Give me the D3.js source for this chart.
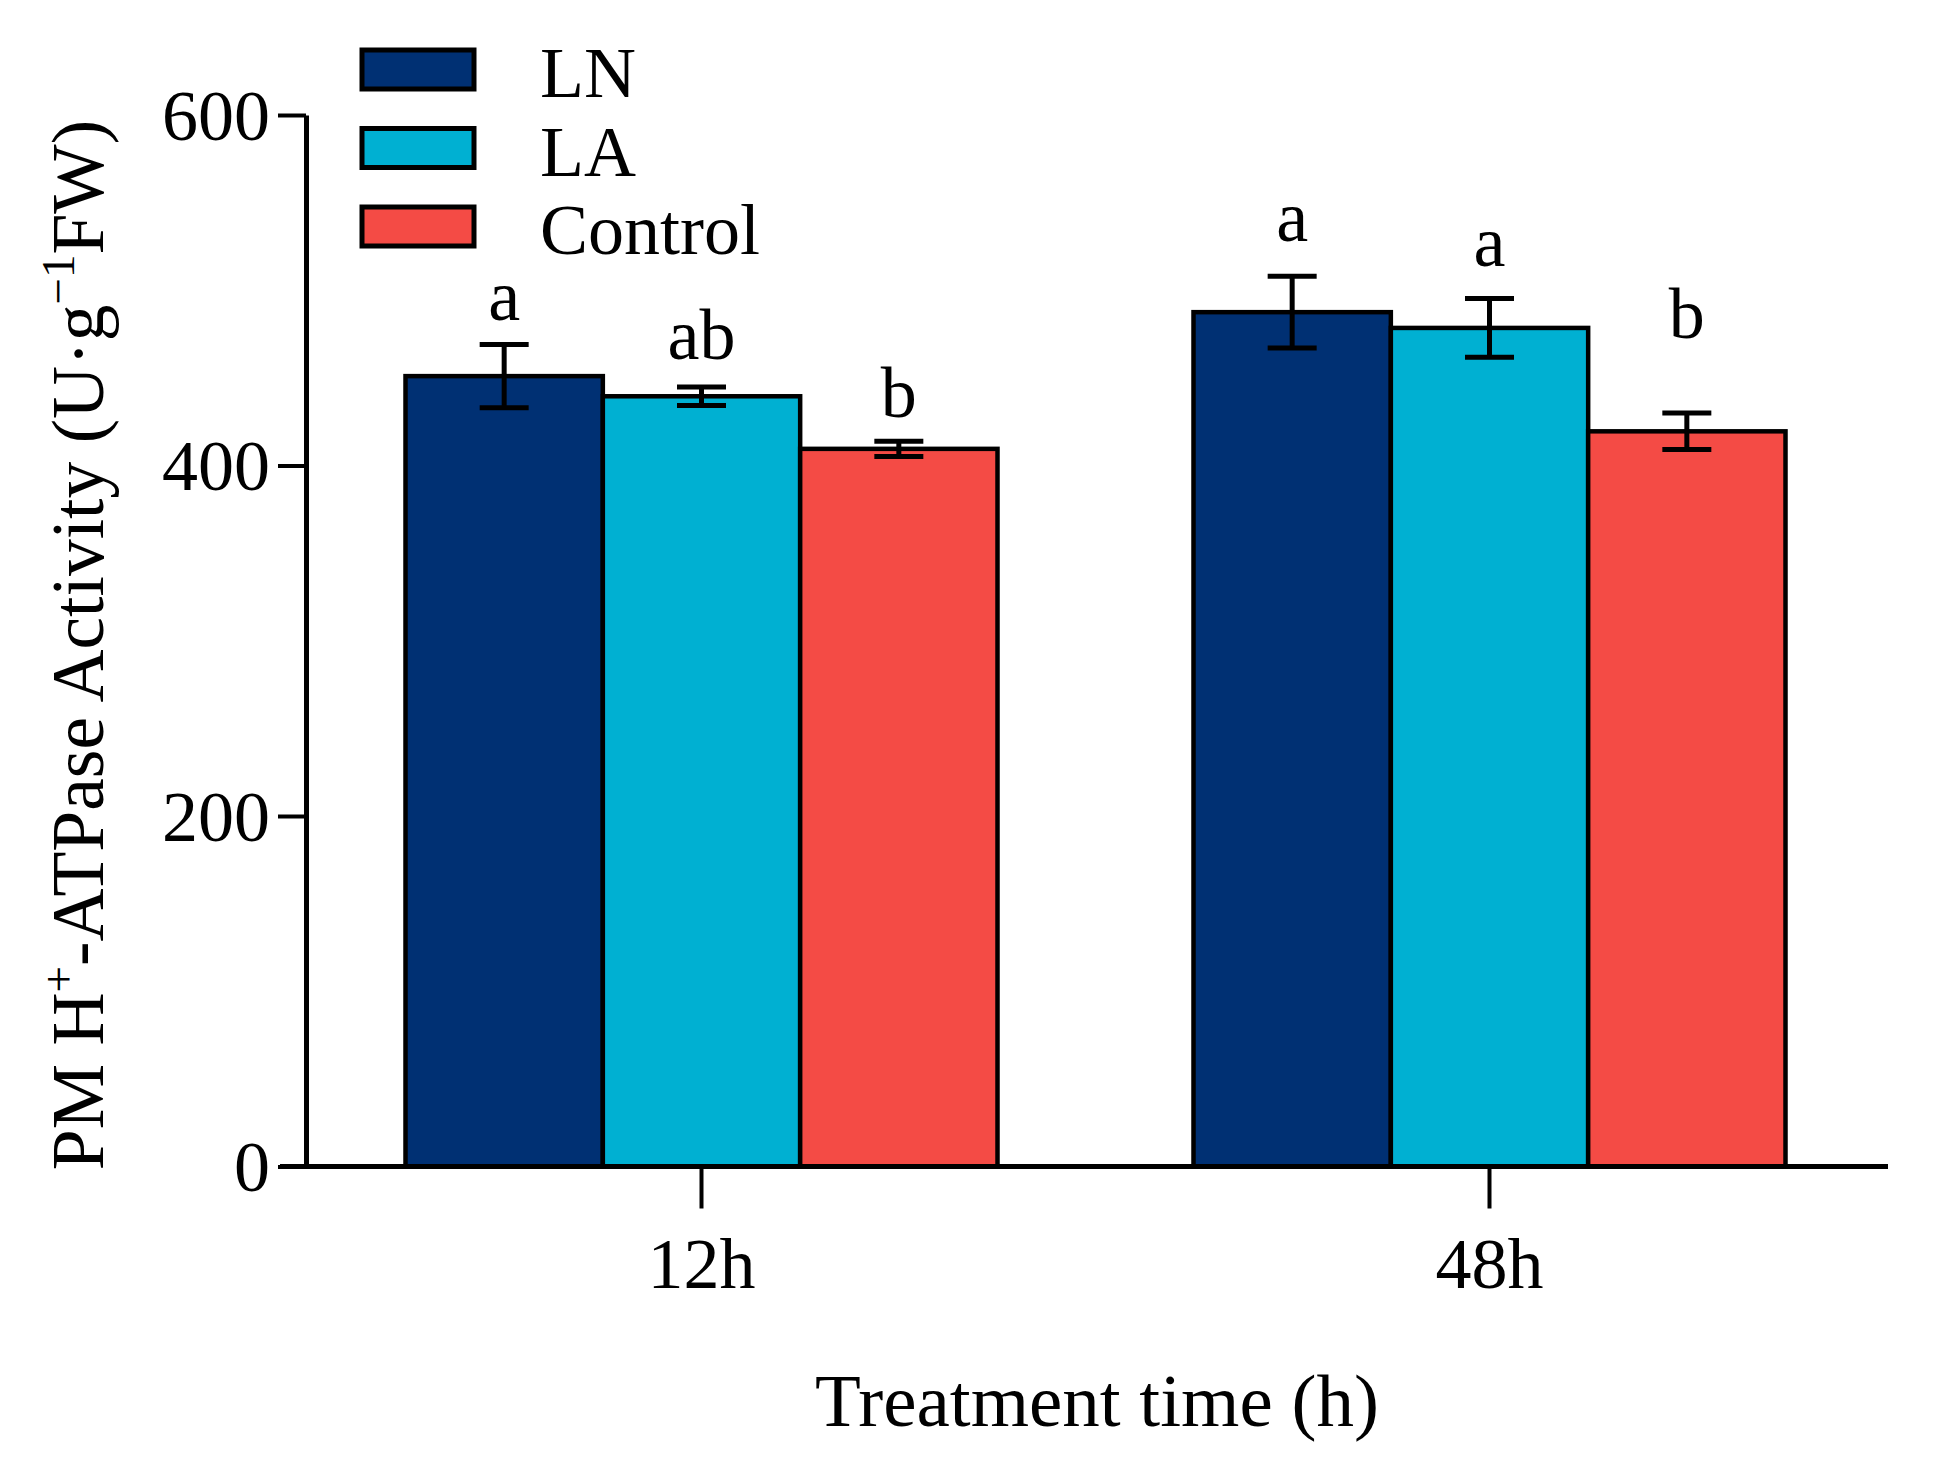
<!DOCTYPE html>
<html>
<head>
<meta charset="utf-8">
<script src="https://cdn.jsdelivr.net/npm/d3@7"></script>
<style>
  html, body { margin: 0; padding: 0; background: #fff; }
  svg { display: block; }
  text { font-family: "Liberation Serif", "Times New Roman", serif; fill: #000; }
</style>
</head>
<body>
<script>
// ---- data ----
const groups = ["12h", "48h"];
const series = ["LN", "LA", "Control"];
const lnValues = [451, 487.5];
const laValues = [439.5, 478.5];
const controlValues = [409.5, 419.5];
const lnErrors = [18, 20.5];
const laErrors = [5.3, 16.8];
const controlErrors = [4.3, 10.4];
const lnLetters = ["a", "a"];
const laLetters = ["ab", "a"];
const controlLetters = ["b", "b"];
const lnLetterAt = [483, 528];
const laLetterAt = [460.5, 514];
const controlLetterAt = [427.5, 472.5];
const yTicks = [0, 200, 400, 600];
const colors = ["#003073", "#00B0D2", "#F44B45"];

const W = 1938, H = 1462;
const svg = d3.select("body").append("svg").attr("width", W).attr("height", H);

const y = d3.scaleLinear().domain([0, 600]).range([1166.5, 115]);
const x0 = d3.scaleBand().domain(groups).range([307.5, 1883.5]).padding(0);
const x1 = d3.scaleBand().domain(series).range([98, 690]).padding(0);
const color = d3.scaleOrdinal().domain(series).range(colors);

const vals = { LN: lnValues, LA: laValues, Control: controlValues };
const errs = { LN: lnErrors, LA: laErrors, Control: controlErrors };
const letters = { LN: lnLetters, LA: laLetters, Control: controlLetters };
const letterAt = { LN: lnLetterAt, LA: laLetterAt, Control: controlLetterAt };

const rows = [];
groups.forEach((g, gi) => series.forEach(s => rows.push({
  g, s, v: vals[s][gi], e: errs[s][gi], l: letters[s][gi], la: letterAt[s][gi]
})));

// bars
svg.append("g").selectAll("rect").data(rows).join("rect")
  .attr("x", d => x0(d.g) + x1(d.s))
  .attr("y", d => y(d.v))
  .attr("width", x1.bandwidth())
  .attr("height", d => y(0) - y(d.v))
  .attr("fill", d => color(d.s))
  .attr("stroke", "#000")
  .attr("stroke-width", 4.5);

// error bars
const eb = svg.append("g").attr("stroke", "#000").attr("stroke-width", 5).attr("fill", "none");
const cx = d => x0(d.g) + x1(d.s) + x1.bandwidth() / 2;
const capW = 24.5;
eb.selectAll("line.v").data(rows).join("line").attr("class", "v")
  .attr("x1", cx).attr("x2", cx)
  .attr("y1", d => y(d.v + d.e)).attr("y2", d => y(d.v - d.e));
eb.selectAll("line.t").data(rows).join("line").attr("class", "t")
  .attr("x1", d => cx(d) - capW).attr("x2", d => cx(d) + capW)
  .attr("y1", d => y(d.v + d.e)).attr("y2", d => y(d.v + d.e));
eb.selectAll("line.b").data(rows).join("line").attr("class", "b")
  .attr("x1", d => cx(d) - capW).attr("x2", d => cx(d) + capW)
  .attr("y1", d => y(d.v - d.e)).attr("y2", d => y(d.v - d.e));

// significance letters
svg.append("g").selectAll("text").data(rows).join("text")
  .attr("x", cx)
  .attr("y", d => y(d.la))
  .attr("text-anchor", "middle")
  .attr("font-size", 72)
  .text(d => d.l);

// y axis
const yAxis = svg.append("g").attr("transform", "translate(306,0)")
  .call(d3.axisLeft(y).tickValues(yTicks).tickSize(28).tickSizeOuter(0).tickPadding(8));
yAxis.select(".domain").attr("stroke-width", 5).attr("stroke", "#000");
yAxis.selectAll(".tick line").attr("stroke-width", 4).attr("stroke", "#000");
yAxis.selectAll(".tick text").attr("font-size", 72)
  .attr("font-family", "Liberation Serif, Times New Roman, serif")
  .attr("fill", "#000").attr("dy", "0.34em");

// x axis
const xAxisG = svg.append("g").attr("transform", `translate(0,${y(0)})`);
xAxisG.call(d3.axisBottom(x0).tickSize(42).tickSizeOuter(0).tickPadding(28));
xAxisG.select(".domain").remove();
xAxisG.append("line").attr("x1", 280).attr("x2", 1888).attr("y1", 0).attr("y2", 0)
  .attr("stroke", "#000").attr("stroke-width", 5);
xAxisG.selectAll(".tick line").attr("stroke-width", 4).attr("stroke", "#000");
xAxisG.selectAll(".tick text").attr("font-size", 72)
  .attr("font-family", "Liberation Serif, Times New Roman, serif")
  .attr("fill", "#000").attr("dy", "0.71em");

// x title
svg.append("text").attr("x", 1097).attr("y", 1426).attr("text-anchor", "middle")
  .attr("font-size", 75).text("Treatment time (h)");

// y title
const yt = svg.append("text").attr("transform", "translate(103,645) rotate(-90)")
  .attr("text-anchor", "middle").attr("font-size", 73.5);
yt.append("tspan").text("PM H");
yt.append("tspan").attr("font-size", 47).attr("dy", -29).text("+");
yt.append("tspan").attr("dy", 29).text("-ATPase Activity (U\u00B7g");
yt.append("tspan").attr("font-size", 47).attr("dy", -29).text("\u22121");
yt.append("tspan").attr("dy", 29).text("FW)");

// legend
const lg = svg.append("g").selectAll("g").data(series).join("g")
  .attr("transform", (d, i) => `translate(362,${50 + i * 78.5})`);
lg.append("rect").attr("width", 112).attr("height", 39)
  .attr("fill", d => color(d)).attr("stroke", "#000").attr("stroke-width", 5);
lg.append("text").attr("x", 178).attr("y", 47).attr("font-size", 72).text(d => d);
</script>
</body>
</html>
